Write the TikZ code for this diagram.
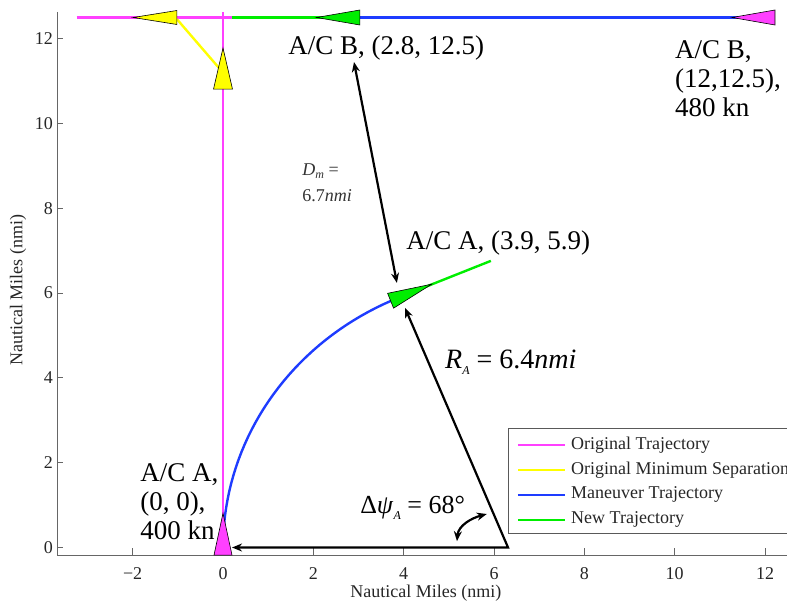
\documentclass[tikz,border=0pt]{standalone}
\usepackage{fontspec}
\setmainfont{Liberation Serif}
\usetikzlibrary{calc,arrows.meta}

\definecolor{cMag}{RGB}{255,64,255}
\definecolor{cYel}{RGB}{255,255,0}
\definecolor{cBlu}{RGB}{30,60,255}
\definecolor{cGrn}{RGB}{0,238,0}

% aircraft marker: fill colour, apex, base centre, half width
\newcommand{\actri}[4]{%
  \filldraw[fill=#1,draw=black,line width=0.3pt] (#2) -- ($(#3)!#4!90:(#2)$) -- ($(#3)!#4!-90:(#2)$) -- cycle;}

\begin{document}
\begin{tikzpicture}[x=22.585pt,y=21.2pt,
  >={Stealth[length=5pt,width=4pt]},
  trajline/.style={line width=1.2pt},
  axisline/.style={draw=black!60,line width=0.5pt},
  ticklab/.style={font=\fontsize{9}{10}\selectfont,text=black!85,inner sep=0pt},
  callout/.style={font=\fontsize{13.5}{14.5}\selectfont,align=left,inner sep=0pt},
  dimarrow/.style={line width=1.1pt,<->}]

\useasboundingbox (-4.937,-1.285) rectangle (12.486,12.913);

% axes
\draw[axisline] (-3.675,12.63) -- (-3.675,-0.177) -- (12.486,-0.177);
\foreach \t in {-2,0,...,12} \draw[axisline] (\t,-0.177) -- ++(0,0.17);
\foreach \t in {0,2,...,12} \draw[axisline] (-3.675,\t) -- ++(0.13,0);

\foreach \t/\lab [count=\i] in {-2/−2,0/0,2/2,4/4,6/6,8/8,10/10,12/12}
  \node[ticklab] (xt\i) at (\t,-0.62) {\lab};
\foreach \t [count=\i] in {0,2,...,12}
  \node[ticklab,anchor=east] (yt\i) at (-3.76,\t) {\t};

\node[ticklab] (xtitle) at (4.49,-1.07) {Nautical Miles (nmi)};
\node[ticklab,rotate=90] (ytitle) at (-4.54,6.07) {Nautical Miles (nmi)};

% trajectories
\draw[trajline,cMag] (-3.24,12.5) -- (12.2,12.5);
\draw[trajline,cMag] (0,0) -- (0,12.63);
\draw[trajline,cYel] (-1.02,12.46) -- (0,11.2);
\draw[trajline,cBlu] (11.5,12.5) -- (2.8,12.5);
\draw[trajline,cGrn] (2.8,12.5) -- (0.2,12.5);
\draw[trajline,cBlu] plot[domain=180:113,samples=40] ({6.41+6.41*cos(\x)},{6.41*sin(\x)});
\draw[trajline,cGrn] (3.9,5.9) -- (5.93,6.76);

% aircraft markers
\actri{cMag}{11.27,12.5}{12.22,12.5}{3.75pt}
\actri{cGrn}{2.07,12.5}{3.03,12.5}{3.75pt}
\actri{cYel}{-1.99,12.5}{-1.02,12.5}{3.5pt}
\actri{cYel}{0,11.78}{0,10.81}{4.75pt}
\actri{cMag}{0,0.81}{0,-0.18}{4.5pt}
\actri{cGrn}{4.62,6.21}{3.71,5.82}{4pt}

% dimension arrows
\coordinate (atip) at (0.2,0);
\coordinate (corner) at (6.31,0);
\coordinate (gtip) at (4.03,5.65);
\draw[dimarrow] (atip) -- (corner) -- (gtip);
\coordinate (dtop) at (2.90,11.45);
\coordinate (dbot) at (3.85,6.24);
\draw[dimarrow] (dtop) -- (dbot);
\coordinate (angA) at (5.18,0.15);
\coordinate (angB) at (5.84,0.79);
\draw[dimarrow] (angA) to[out=85,in=195] (angB);

% labels
\node[callout,anchor=base west] (bnew) at (1.44,11.62) {A/C B, (2.8, 12.5)};
\node[callout,anchor=north west] (bstart) at (10.0,11.97) {A/C B,\\(12,12.5),\\480 kn};
\node[callout,anchor=north west] (astart) at (-1.84,1.98) {A/C A,\\(0, 0),\\400 kn};
\node[callout,anchor=base west] (anew) at (4.05,7.02) {A/C A, (3.9, 5.9)};
\node[inner sep=0pt,anchor=base west,font=\fontsize{14}{16}\selectfont] (rlab) at (4.91,4.23)
  {\textit{R}\raisebox{-0.5ex}{\fontsize{6}{6}\selectfont\textit{A}} = 6.4\textit{nmi}};
\node[inner sep=0pt,anchor=base west,font=\fontsize{13}{15}\selectfont] (psilab) at (3.03,0.81)
  {Δ\textit{ψ}\raisebox{-0.5ex}{\fontsize{6}{6}\selectfont\textit{A}} = 68°};
\node[inner sep=0pt,anchor=north west,align=left,text=black!80,font=\fontsize{9}{13}\selectfont] (dmlab) at (1.75,9.07)
  {\textit{D}\raisebox{-0.4ex}{\fontsize{6}{6}\selectfont\textit{m}} =\\6.7\textit{nmi}};

% legend
\draw[draw=black!65,line width=0.5pt] (12.486,2.818) -| (6.33,0.342) -- (12.486,0.342);
\foreach \col/\txt [count=\i] in {cMag/Original Trajectory,cYel/Original Minimum Separation,cBlu/Maneuver Trajectory,cGrn/New Trajectory}{
  \draw[trajline,\col] (6.53,{3.01-0.59*\i}) -- (7.57,{3.01-0.59*\i});
  \node[anchor=west,inner sep=0pt,font=\fontsize{9}{10}\selectfont,text=black!85] (leg\i) at (7.70,{3.01-0.59*\i}) {\txt};
}

\end{tikzpicture}
\end{document}
